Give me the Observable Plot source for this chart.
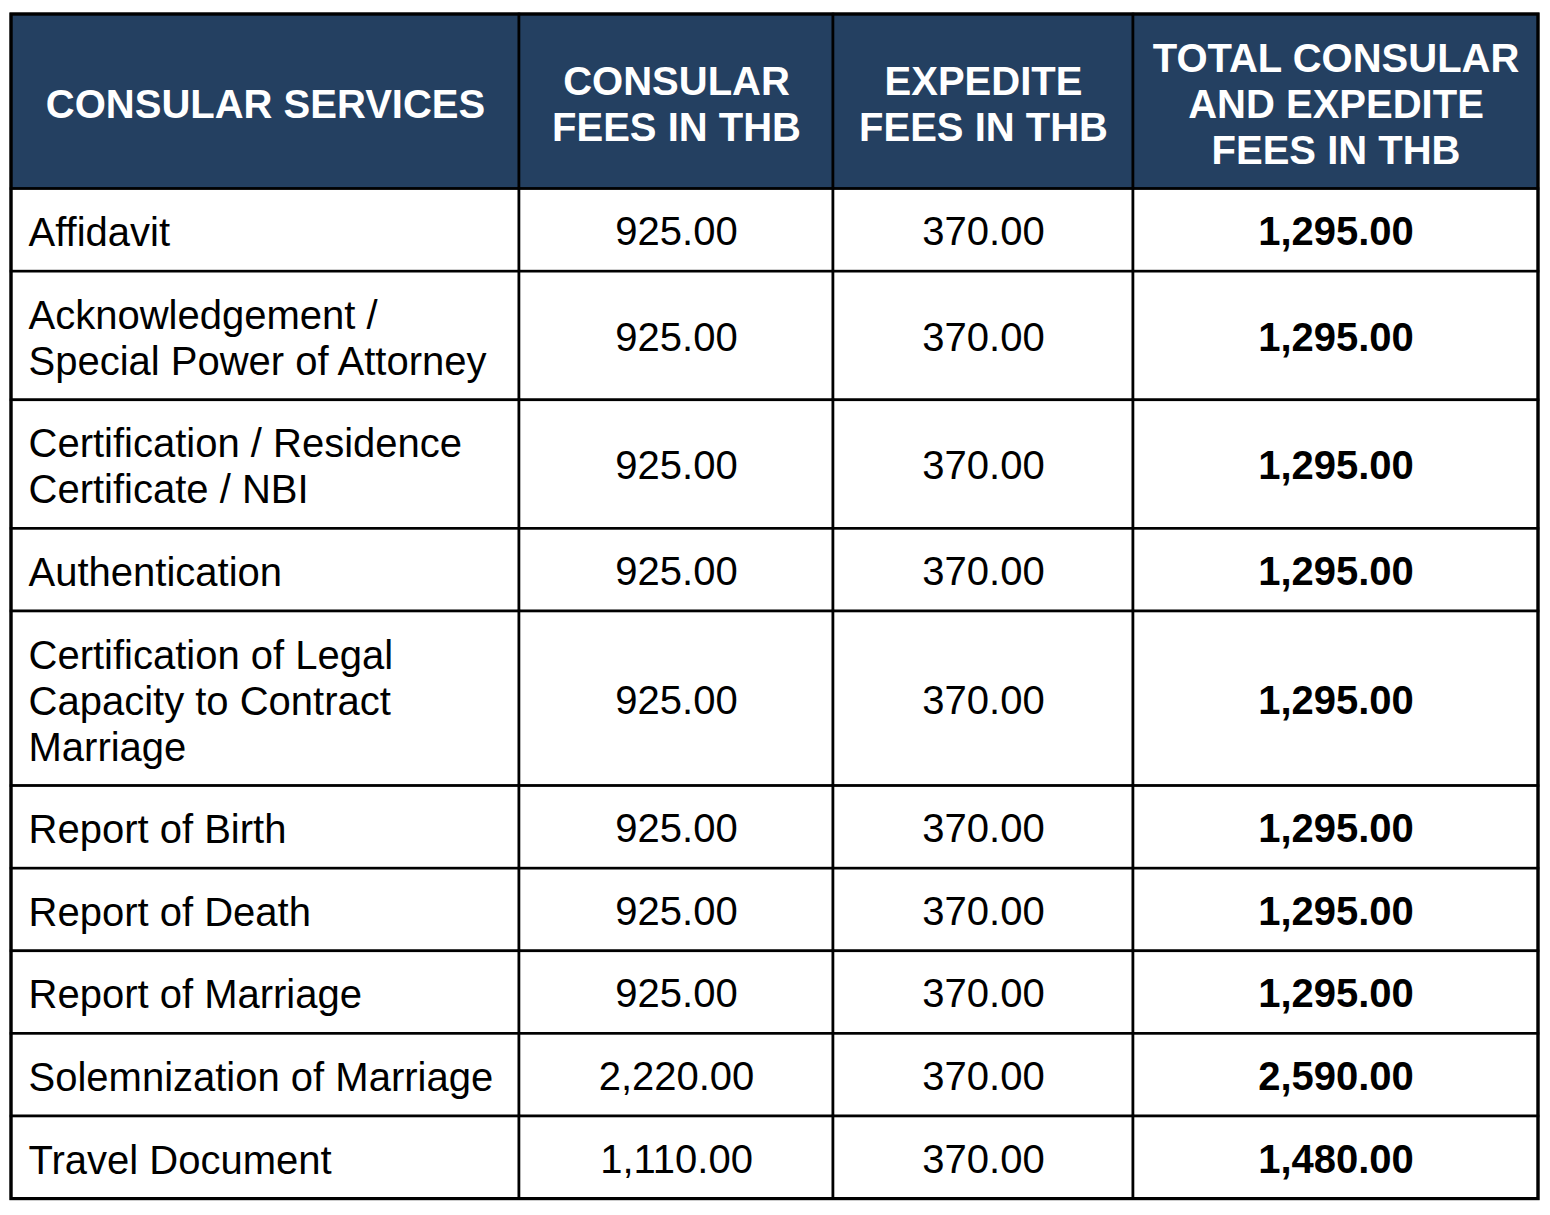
<!DOCTYPE html>
<html>
<head>
<meta charset="utf-8">
<script src="https://cdn.jsdelivr.net/npm/d3@7"></script>
<script src="https://cdn.jsdelivr.net/npm/@observablehq/plot@0.6"></script>
<style>
  html, body { margin: 0; padding: 0; background: #ffffff; }
  #chart svg { display: block; }
</style>
</head>
<body>
<div id="chart"></div>
<script>
const headers = [
  "CONSULAR SERVICES",
  "CONSULAR\nFEES IN THB",
  "EXPEDITE\nFEES IN THB",
  "TOTAL CONSULAR\nAND EXPEDITE\nFEES IN THB"
];
const services = [
  "Affidavit",
  "Acknowledgement /\nSpecial Power of Attorney",
  "Certification / Residence\nCertificate / NBI",
  "Authentication",
  "Certification of Legal\nCapacity to Contract\nMarriage",
  "Report of Birth",
  "Report of Death",
  "Report of Marriage",
  "Solemnization of Marriage",
  "Travel Document"
];
const consularFees = [925, 925, 925, 925, 925, 925, 925, 925, 2220, 1110];
const expediteFees = [370, 370, 370, 370, 370, 370, 370, 370, 370, 370];
const totalFees = [1295, 1295, 1295, 1295, 1295, 1295, 1295, 1295, 2590, 1480];

// ---- Layout ----
const W = 1550, H = 1215;
const tableLeft = 11, tableTop = 14;
const colWidths = [508, 314, 300, 405];
const lineH = 46, rowPad = 36.6;
const fontSize = 40;
const headerFill = "#244061";
const fmt = d3.format(",.2f");

const colX = [tableLeft];
colWidths.forEach(w => colX.push(colX[colX.length - 1] + w));
const nLines = s => s.split("\n").length;

const headerLines = d3.max(headers, nLines);
const rowBounds = [tableTop, tableTop + rowPad + lineH * headerLines];
services.forEach(s => rowBounds.push(rowBounds[rowBounds.length - 1] + rowPad + lineH * nLines(s)));

// cells
const headerCells = headers.map((h, c) => ({
  x1: colX[c], x2: colX[c + 1], y1: rowBounds[0], y2: rowBounds[1], text: h
}));
const bodyCells = [];
services.forEach((s, r) => {
  const vals = [s, fmt(consularFees[r]), fmt(expediteFees[r]), fmt(totalFees[r])];
  vals.forEach((v, c) => {
    bodyCells.push({
      x1: colX[c], x2: colX[c + 1], y1: rowBounds[r + 1], y2: rowBounds[r + 2],
      text: v, col: c
    });
  });
});

const cx = d => (d.x1 + d.x2) / 2;
const cy = d => (d.y1 + d.y2) / 2 + 1;
const cyNum = d => (d.y1 + d.y2) / 2 + 2;

const chart = Plot.plot({
  width: W,
  height: H,
  margin: 0,
  x: { type: "linear", domain: [0, W], range: [0, W], axis: null },
  y: { type: "linear", domain: [0, H], range: [0, H], axis: null },
  style: { fontFamily: "'Liberation Sans', Arial, sans-serif", background: "#ffffff" },
  marks: [
    Plot.rect(headerCells, { x1: "x1", x2: "x2", y1: "y1", y2: "y2", fill: headerFill, stroke: "#000", strokeWidth: 2.6 }),
    Plot.rect(bodyCells, { x1: "x1", x2: "x2", y1: "y1", y2: "y2", fill: "#ffffff", stroke: "#000", strokeWidth: 2.6 }),
    Plot.rect([{ x1: colX[0], x2: colX[colX.length - 1], y1: rowBounds[0], y2: rowBounds[rowBounds.length - 1] }],
      { x1: "x1", x2: "x2", y1: "y1", y2: "y2", fill: "none", stroke: "#000", strokeWidth: 3.2 }),
    Plot.text(headerCells, { x: cx, y: cy, text: "text", fill: "#ffffff", fontWeight: "bold", fontSize, lineHeight: 1.15, textAnchor: "middle", lineAnchor: "middle" }),
    Plot.text(bodyCells.filter(d => d.col === 0), { x: d => d.x1 + 17, y: cy, text: "text", fill: "#000", fontSize, lineHeight: 1.15, textAnchor: "start", lineAnchor: "middle" }),
    Plot.text(bodyCells.filter(d => d.col === 1 || d.col === 2), { x: cx, y: cyNum, text: "text", fill: "#000", fontSize, textAnchor: "middle", lineAnchor: "middle" }),
    Plot.text(bodyCells.filter(d => d.col === 3), { x: cx, y: cyNum, text: "text", fill: "#000", fontWeight: "bold", fontSize, textAnchor: "middle", lineAnchor: "middle" })
  ]
});
document.getElementById("chart").appendChild(chart);
</script>
</body>
</html>
